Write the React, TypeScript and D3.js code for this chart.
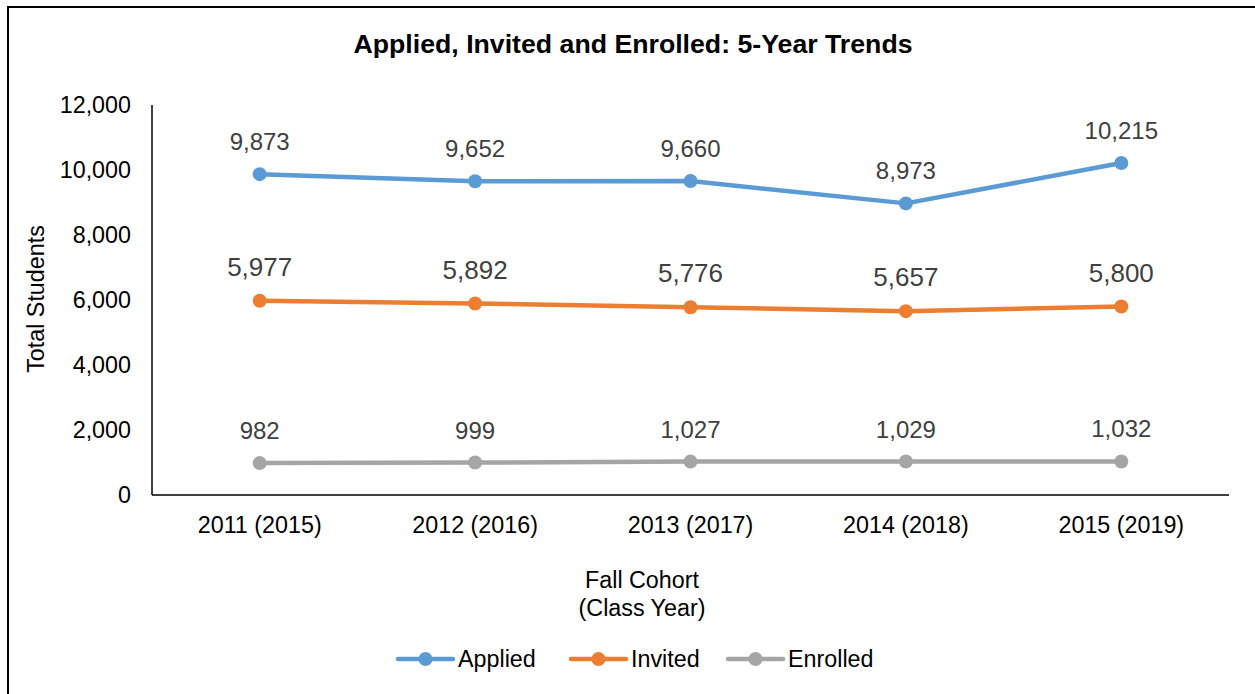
import React from "react";
import * as d3 from "d3";

const categories = ["2011 (2015)", "2012 (2016)", "2013 (2017)", "2014 (2018)", "2015 (2019)"];
const applied = [9873, 9652, 9660, 8973, 10215];
const invited = [5977, 5892, 5776, 5657, 5800];
const enrolled = [982, 999, 1027, 1029, 1032];
const yTicks = [0, 2000, 4000, 6000, 8000, 10000, 12000];
const seriesNames = ["Applied", "Invited", "Enrolled"];
const seriesColors = ["#5B9BD5", "#ED7D31", "#A5A5A5"];

const W = 1255;
const H = 694;
const FONT = "'Liberation Sans', Arial, sans-serif";

export default function App() {
  const x = d3.scaleBand<string>().domain(categories).range([152, 1229]);
  const y = d3.scaleLinear().domain([0, 12000]).range([495, 105]);
  const cx = (c: string) => (x(c) as number) + x.bandwidth() / 2;
  const fmt = d3.format(",");
  const line = d3
    .line<number>()
    .x((_, i) => cx(categories[i]))
    .y((v) => y(v));

  const series = [applied, invited, enrolled];
  const labelSize = [24, 26, 24];
  const labelOff = [24, 25, 24];
  const legendX = [398, 571, 728];

  return (
    <svg
      width={W}
      height={H}
      style={{ position: "absolute", left: 0, top: 0, background: "#fff" }}
      fontFamily={FONT}
    >
      <rect x={0} y={0} width={W} height={H} fill="#fff" />
      <rect x={8} y={7} width={1400} height={900} fill="none" stroke="#000" strokeWidth={2} />
      <text x={633} y={53} textAnchor="middle" fontSize={26.7} fontWeight="bold" fill="#000">
        Applied, Invited and Enrolled: 5-Year Trends
      </text>

      {/* y axis */}
      <line x1={152} x2={152} y1={y(12000)} y2={y(0)} stroke="#000" strokeWidth={1.5} />
      {yTicks.map((t) => (
        <text key={t} x={131} y={y(t)} dy="0.35em" textAnchor="end" fontSize={23.3} fill="#000">
          {fmt(t)}
        </text>
      ))}
      <text
        transform={`translate(44,299) rotate(-90)`}
        textAnchor="middle"
        fontSize={23.3}
        fill="#000"
      >
        Total Students
      </text>

      {/* x axis */}
      <line x1={152} x2={1229} y1={y(0)} y2={y(0)} stroke="#000" strokeWidth={1.5} />
      {categories.map((c) => (
        <text key={c} x={cx(c)} y={533} textAnchor="middle" fontSize={23.3} fill="#000">
          {c}
        </text>
      ))}
      <text x={642} y={588} textAnchor="middle" fontSize={23.3} fill="#000">
        Fall Cohort
      </text>
      <text x={642} y={616} textAnchor="middle" fontSize={23.3} fill="#000">
        (Class Year)
      </text>

      {/* series */}
      {series.map((s, si) => (
        <g key={si}>
          <path d={line(s) || ""} fill="none" stroke={seriesColors[si]} strokeWidth={4.5} strokeLinejoin="round" strokeLinecap="round" />
          {s.map((v, i) => (
            <circle key={i} cx={cx(categories[i])} cy={y(v)} r={7} fill={seriesColors[si]} />
          ))}
          {s.map((v, i) => (
            <text
              key={"l" + i}
              x={cx(categories[i])}
              y={y(v) - labelOff[si]}
              textAnchor="middle"
              fontSize={labelSize[si]}
              fill="#404040"
            >
              {fmt(v)}
            </text>
          ))}
        </g>
      ))}

      {/* legend */}
      {seriesNames.map((n, i) => (
        <g key={n}>
          <line x1={legendX[i]} x2={legendX[i] + 55} y1={659} y2={659} stroke={seriesColors[i]} strokeWidth={4.5} strokeLinecap="round" />
          <circle cx={legendX[i] + 27.5} cy={659} r={7} fill={seriesColors[i]} />
          <text x={legendX[i] + 60} y={659} dy="0.35em" fontSize={23.3} fill="#000">
            {n}
          </text>
        </g>
      ))}
    </svg>
  );
}
